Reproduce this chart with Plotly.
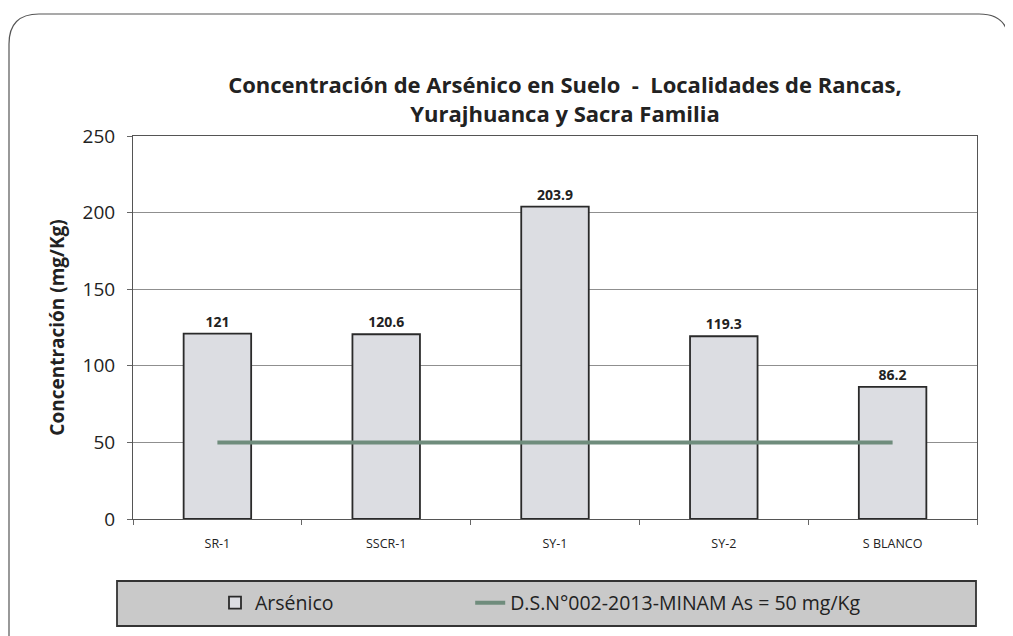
import plotly.graph_objects as go

categories = ["SR-1", "SSCR-1", "SY-1", "SY-2", "S BLANCO"]
arsenico = [121, 120.6, 203.9, 119.3, 86.2]
arsenico_labels = ["121", "120.6", "203.9", "119.3", "86.2"]
limite = [50, 50, 50, 50, 50]
y_ticks = [0, 50, 100, 150, 200, 250]

OFF = 8  # default body margin of the html page
W, H = 1005, 628
L, R, T, B = 133 - OFF, 977 - OFF, 136 - OFF, 519 - OFF


def px(x):
    return (x - OFF - L) / (R - L)


def py(y):
    return (B - (y - OFF)) / (B - T)


fig = go.Figure()
fig.add_trace(go.Bar(
    x=categories, y=arsenico, name="Arsénico" + "\u00a0" * 26,
    marker=dict(color="#dcdde2", line=dict(color="#2a2a2a", width=1.8)),
    width=0.4,
    text=["<b>" + t + "</b>" for t in arsenico_labels], textposition="outside",
    textfont=dict(family="Open Sans", size=14, color="#222"),
    cliponaxis=False,
))
fig.add_trace(go.Scatter(
    x=categories, y=limite, mode="lines",
    name="D.S.N°002-2013-MINAM As = 50 mg/Kg",
    line=dict(color="#6f8c7c", width=4),
))

r = 30
x0, x1, y0, y1 = px(9), px(1009), py(14), py(640)
rx = r / (R - L)
ry = r / (B - T)
path = (f"M {x0},{y1} L {x0},{y0 - ry} Q {x0},{y0} {x0 + rx},{y0} "
        f"L {x1 - rx},{y0} Q {x1},{y0} {x1},{y0 - ry} L {x1},{y1}")

shapes = [
    dict(type="path", xref="paper", yref="paper", path=path,
         line=dict(color="#555", width=1.2), layer="below"),
    dict(type="rect", xref="paper", yref="paper",
         x0=px(117), x1=px(976), y0=py(581), y1=py(626),
         fillcolor="#c9c9c9", line=dict(color="#333", width=1.8), layer="below"),
]

fig.update_layout(
    width=W, height=H,
    margin=dict(l=L, r=W - R, t=T, b=H - B),
    paper_bgcolor="white", plot_bgcolor="white",
    title=dict(
        text="<b>Concentración de Arsénico en Suelo  -  Localidades de Rancas,<br>Yurajhuanca y Sacra Familia</b>",
        x=px(565), xref="paper", xanchor="center",
        y=1 - (93 - OFF) / H, yanchor="middle",
        font=dict(family="Open Sans", size=22, color="#222"),
    ),
    font=dict(family="Open Sans", color="#222"),
    showlegend=True,
    legend=dict(
        orientation="h", x=px(215), xanchor="left", y=py(603), yanchor="middle",
        bgcolor="rgba(0,0,0,0)", font=dict(family="Open Sans", size=19.5, color="#222"),
        traceorder="normal",
    ),
    shapes=shapes,
)
fig.update_yaxes(
    range=[0, 250], tickvals=y_ticks,
    showgrid=True, gridcolor="#8f8f8f", gridwidth=1,
    showline=True, linecolor="#555", linewidth=1, mirror=True,
    ticks="outside", ticklen=5, tickcolor="#666", ticklabelstandoff=8,
    tickfont=dict(family="Open Sans", size=19, color="#222"),
    title=dict(text="<b>Concentración (mg/Kg)</b>",
               font=dict(family="Open Sans", size=19, color="#222"), standoff=12),
    zeroline=False,
)
fig.update_xaxes(
    showline=True, linecolor="#555", linewidth=1, mirror=True,
    ticks="outside", ticklen=5, tickcolor="#666", tickson="boundaries",
    ticklabelstandoff=13,
    tickfont=dict(family="Open Sans", size=12.5, color="#222"),
)

fig.write_html("out.html")
